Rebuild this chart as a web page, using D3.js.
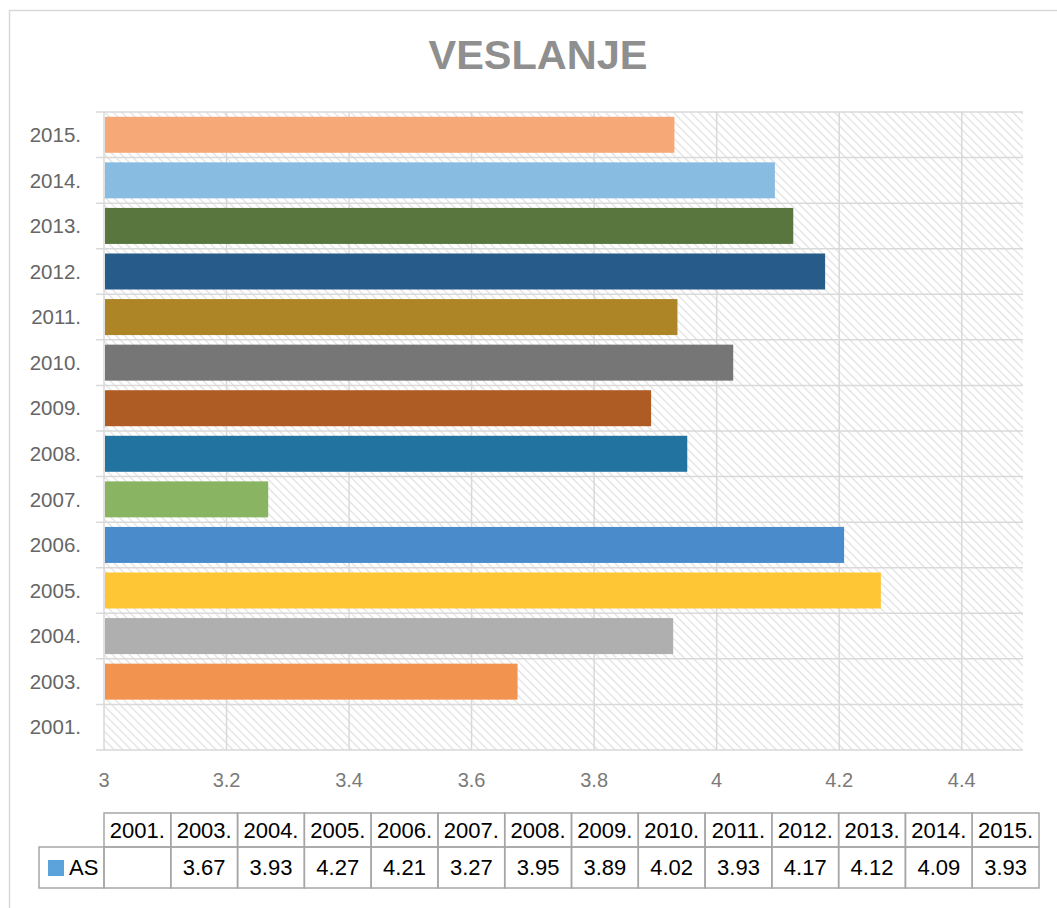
<!DOCTYPE html>
<html>
<head>
<meta charset="utf-8">
<script src="https://cdn.jsdelivr.net/npm/d3@7"></script>
<style>
  body { margin: 0; background: #fff; }
  svg { display: block; }
</style>
</head>
<body>
<script>
// data
var years = ["2001.", "2003.", "2004.", "2005.", "2006.", "2007.", "2008.", "2009.", "2010.", "2011.", "2012.", "2013.", "2014.", "2015."];
// bar lengths (unrounded)
var values = [null, 3.675, 3.929, 4.268, 4.208, 3.268, 3.952, 3.893, 4.027, 3.936, 4.177, 4.125, 4.095, 3.931];
// values as printed in the data table
var tableLabels = ["", "3.67", "3.93", "4.27", "4.21", "3.27", "3.95", "3.89", "4.02", "3.93", "4.17", "4.12", "4.09", "3.93"];
var barColors = [null, "#f39350", "#afafaf", "#fec535", "#4a8ccb", "#89b462", "#22739f", "#ae5c24", "#767676", "#ad8426", "#265b8a", "#5a763f", "#88bce1", "#f6a977"];
var xTicks = [3, 3.2, 3.4, 3.6, 3.8, 4, 4.2, 4.4];
var seriesName = "AS";

var W = 1057, H = 908;
var svg = d3.select("body").append("svg")
    .attr("width", W)
    .attr("height", H);

// chart frame
svg.append("rect")
    .attr("x", 9.5).attr("y", 10.5)
    .attr("width", 1060).attr("height", 920)
    .attr("fill", "#fff")
    .attr("stroke", "#d9d9d9")
    .attr("stroke-width", 1.5);

// hatch pattern for plot area (dark downward diagonal)
var defs = svg.append("defs");
var pat = defs.append("pattern")
    .attr("id", "hatch")
    .attr("patternUnits", "userSpaceOnUse")
    .attr("width", 6).attr("height", 6)
    .attr("patternTransform", "rotate(-45)");
pat.append("rect").attr("width", 6).attr("height", 6).attr("fill", "#fff");
pat.append("line")
    .attr("x1", 0).attr("y1", 0).attr("x2", 0).attr("y2", 6)
    .attr("stroke", "#e0e0e0")
    .attr("stroke-width", 2.4);

// title
svg.append("text")
    .attr("x", 538).attr("y", 69)
    .attr("text-anchor", "middle")
    .attr("font-family", "Liberation Sans, Arial, sans-serif")
    .attr("font-weight", "bold")
    .attr("font-size", 41.5)
    .attr("fill", "#8f8f8f")
    .text("VESLANJE");

var plot = { left: 104, right: 1023, top: 112, bottom: 750 };

var x = d3.scaleLinear().domain([3, 4.5]).range([plot.left, plot.right]);
var y = d3.scaleBand()
    .domain(years.slice().reverse())
    .range([plot.top, plot.bottom])
    .padding(0);

svg.append("rect")
    .attr("x", plot.left).attr("y", plot.top)
    .attr("width", plot.right - plot.left)
    .attr("height", plot.bottom - plot.top)
    .attr("fill", "url(#hatch)");

// vertical gridlines
svg.append("g").selectAll("line")
    .data(xTicks)
    .join("line")
    .attr("x1", function (d) { return x(d); })
    .attr("x2", function (d) { return x(d); })
    .attr("y1", plot.top).attr("y2", plot.bottom)
    .attr("stroke", "#d9d9d9")
    .attr("stroke-width", 1.5);

// horizontal category lines (with outside tick marks)
var bounds = years.map(function (d) { return y(d); }).concat([plot.bottom]);
svg.append("g").selectAll("line")
    .data(bounds)
    .join("line")
    .attr("x1", plot.left - 8).attr("x2", plot.right)
    .attr("y1", function (d) { return d; })
    .attr("y2", function (d) { return d; })
    .attr("stroke", "#d9d9d9")
    .attr("stroke-width", 1.5);

// bars
var barH = y.bandwidth() * 0.79;
svg.append("g").selectAll("rect")
    .data(years.map(function (d, i) { return { year: d, v: values[i], c: barColors[i] }; })
        .filter(function (d) { return d.v != null; }))
    .join("rect")
    .attr("x", x(3) + 1)
    .attr("y", function (d) { return y(d.year) + (y.bandwidth() - barH) / 2; })
    .attr("width", function (d) { return x(d.v) - x(3) - 1; })
    .attr("height", barH)
    .attr("fill", function (d) { return d.c; });

// category labels
svg.append("g").selectAll("text")
    .data(years)
    .join("text")
    .attr("x", 81)
    .attr("y", function (d) { return y(d) + y.bandwidth() / 2; })
    .attr("dy", "0.35em")
    .attr("text-anchor", "end")
    .attr("font-family", "Liberation Sans, Arial, sans-serif")
    .attr("font-size", 20.5)
    .attr("fill", "#666")
    .text(function (d) { return d; });

// value axis labels
svg.append("g").selectAll("text")
    .data(xTicks)
    .join("text")
    .attr("x", function (d) { return x(d); })
    .attr("y", 787)
    .attr("text-anchor", "middle")
    .attr("font-family", "Liberation Sans, Arial, sans-serif")
    .attr("font-size", 20)
    .attr("fill", "#7a7a7a")
    .text(function (d) { return d3.format("~g")(d); });

// data table
var colW = (1039 - plot.left) / years.length;
var row1 = { top: 813, bottom: 847 }, row2 = { top: 847, bottom: 888 };
var tbl = svg.append("g")
    .attr("font-family", "Liberation Sans, Arial, sans-serif")
    .attr("font-size", 22)
    .attr("fill", "#000");

var cols = years.map(function (d, i) { return { year: d, label: tableLabels[i], x0: plot.left + i * colW }; });

tbl.selectAll("rect.c1")
    .data(cols)
    .join("rect")
    .attr("class", "c1")
    .attr("x", function (d) { return d.x0; })
    .attr("y", row1.top)
    .attr("width", colW).attr("height", row1.bottom - row1.top)
    .attr("fill", "none").attr("stroke", "#a6a6a6").attr("stroke-width", 1.5);
tbl.selectAll("rect.c2")
    .data(cols)
    .join("rect")
    .attr("class", "c2")
    .attr("x", function (d) { return d.x0; })
    .attr("y", row2.top)
    .attr("width", colW).attr("height", row2.bottom - row2.top)
    .attr("fill", "none").attr("stroke", "#a6a6a6").attr("stroke-width", 1.5);
tbl.append("rect")
    .attr("x", 39).attr("y", row2.top)
    .attr("width", plot.left - 39).attr("height", row2.bottom - row2.top)
    .attr("fill", "none").attr("stroke", "#a6a6a6").attr("stroke-width", 1.5);

tbl.selectAll("text.h")
    .data(cols)
    .join("text")
    .attr("class", "h")
    .attr("x", function (d) { return d.x0 + colW / 2; })
    .attr("y", (row1.top + row1.bottom) / 2)
    .attr("dy", "0.36em")
    .attr("text-anchor", "middle")
    .text(function (d) { return d.year; });
tbl.selectAll("text.v")
    .data(cols)
    .join("text")
    .attr("class", "v")
    .attr("x", function (d) { return d.x0 + colW / 2; })
    .attr("y", (row2.top + row2.bottom) / 2)
    .attr("dy", "0.36em")
    .attr("text-anchor", "middle")
    .text(function (d) { return d.label; });

// legend key in table
tbl.append("rect")
    .attr("x", 48).attr("y", 860)
    .attr("width", 16).attr("height", 16)
    .attr("fill", "#5ba3da");
tbl.append("text")
    .attr("x", 69).attr("y", (row2.top + row2.bottom) / 2)
    .attr("dy", "0.36em")
    .text(seriesName);
</script>
</body>
</html>
